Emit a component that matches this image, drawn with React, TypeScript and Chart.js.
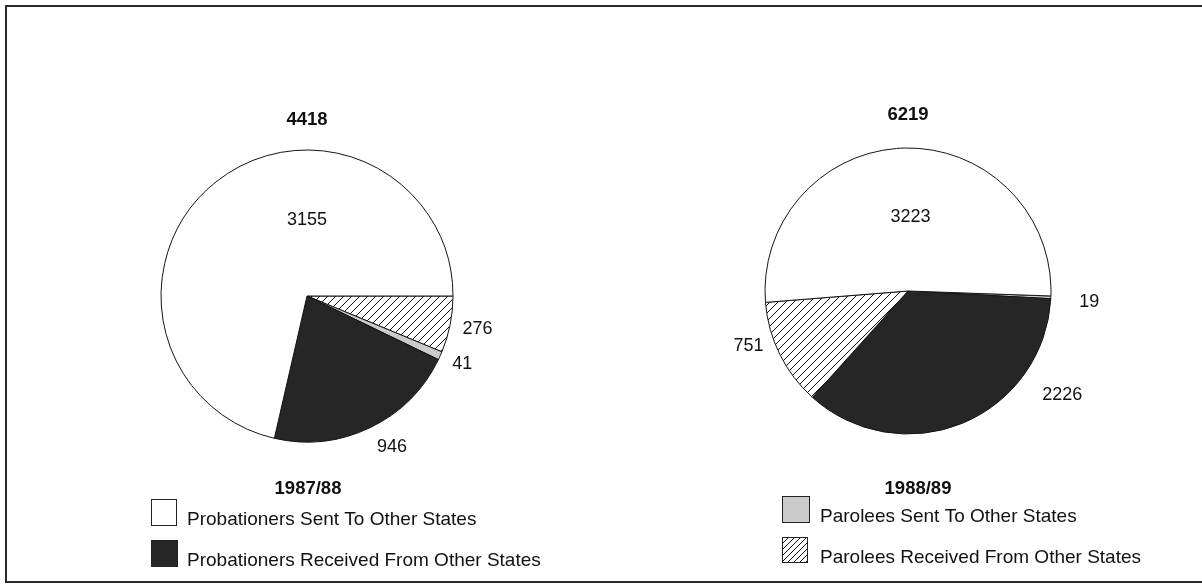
import React, { useEffect, useRef } from 'react';
import { Chart, registerables } from 'chart.js';

Chart.register(...registerables);

const W = 1202;
const H = 585;

// ---- data ----
const categories = [
  'Probationers Sent To Other States',
  'Probationers Received From Other States',
  'Parolees Sent To Other States',
  'Parolees Received From Other States',
];
const years = ['1987/88', '1988/89'];
const totals = [4418, 6219];
const values8788 = [3155, 946, 41, 276];
const values8889 = [3223, 2226, 19, 751];
// clockwise drawing order (category indices) starting from the rotation angle
const drawOrder8788 = [3, 2, 1, 0];
const drawOrder8889 = [2, 1, 3, 0];

// ---- style / layout ----
const FONT = '"Liberation Sans", Arial, Helvetica, sans-serif';
const WHITE = '#ffffff';
const DARK = '#262626';
const LIGHT = '#cbcbcb';
const LINE = '#141414';

function makeHatch(size: number): CanvasPattern | string {
  const c = document.createElement('canvas');
  c.width = size;
  c.height = size;
  const g = c.getContext('2d');
  if (!g) return '#fff';
  g.fillStyle = '#fff';
  g.fillRect(0, 0, size, size);
  g.strokeStyle = '#111';
  g.lineWidth = 1;
  g.beginPath();
  g.moveTo(-1, size + 1);
  g.lineTo(size + 1, -1);
  g.moveTo(-1, 1);
  g.lineTo(1, -1);
  g.moveTo(size - 1, size + 1);
  g.lineTo(size + 1, size - 1);
  g.stroke();
  const p = g.createPattern(c, 'repeat');
  return p || '#fff';
}

type PieCfg = {
  values: number[];
  order: number[];
  total: number;
  year: string;
  cx: number;
  cy: number;
  r: number;
  rotation: number;
  labelPos: [number, number][]; // per category: angle (deg, clockwise from 3 o'clock), distance factor of radius
  titleDy: number;
  yearXY: [number, number];
  legend: { cat: number; box: [number, number, number, number]; text: [number, number] }[];
  frame: boolean;
};

const pies: PieCfg[] = [
  {
    values: values8788,
    order: drawOrder8788,
    total: totals[0],
    year: years[0],
    cx: 307,
    cy: 296,
    r: 146,
    rotation: 90,
    labelPos: [
      [270, 0.52],
      [60.7, 1.19],
      [23.5, 1.16],
      [10.9, 1.19],
    ],
    titleDy: -176.5,
    yearXY: [308, 488.5],
    legend: [
      { cat: 0, box: [151, 499, 26, 27], text: [187, 525] },
      { cat: 1, box: [151, 540, 27, 27], text: [187, 566] },
    ],
    frame: true,
  },
  {
    values: values8889,
    order: drawOrder8889,
    total: totals[1],
    year: years[1],
    cx: 908,
    cy: 291,
    r: 143,
    rotation: 92,
    labelPos: [
      [272, 0.52],
      [33.9, 1.3],
      [3.5, 1.27],
      [161, 1.18],
    ],
    titleDy: -176,
    yearXY: [918, 488.5],
    legend: [
      { cat: 2, box: [782, 496, 28, 27], text: [820, 522] },
      { cat: 3, box: [782, 537, 26, 26], text: [820, 563] },
    ],
    frame: false,
  },
];

function PieCanvas({ cfg }: { cfg: PieCfg }) {
  const ref = useRef<HTMLCanvasElement | null>(null);
  useEffect(() => {
    const canvas = ref.current;
    if (!canvas) return;
    const ctx0 = canvas.getContext('2d');
    if (!ctx0) return;
    const hatchBig = makeHatch(8);
    const hatchSmall = makeHatch(6);
    const colors: (string | CanvasPattern)[] = [WHITE, DARK, LIGHT, hatchBig];
    const legendColors: (string | CanvasPattern)[] = [WHITE, DARK, LIGHT, hatchSmall];

    const overlay = {
      id: 'overlay' + cfg.year,
      beforeDraw(chart: any) {
        if (!cfg.frame) return;
        const ctx = chart.ctx;
        ctx.save();
        ctx.strokeStyle = '#2a2a2a';
        ctx.lineWidth = 2;
        ctx.beginPath();
        ctx.moveTo(1210, 6);
        ctx.lineTo(6, 6);
        ctx.lineTo(6, 582);
        ctx.lineTo(1210, 582);
        ctx.stroke();
        ctx.restore();
      },
      afterDraw(chart: any) {
        const ctx = chart.ctx;
        const meta = chart.getDatasetMeta(0);
        const arc = meta.data[0] as any;
        const cx = arc.x;
        const cy = arc.y;
        const r = arc.outerRadius;
        ctx.save();
        ctx.fillStyle = '#111';
        ctx.textAlign = 'center';
        ctx.textBaseline = 'middle';
        // slice value labels
        ctx.font = '18px ' + FONT;
        cfg.order.forEach((cat) => {
          const [a, f] = cfg.labelPos[cat];
          const rad = (a * Math.PI) / 180;
          ctx.fillText(String(cfg.values[cat]), cx + Math.cos(rad) * r * f, cy + Math.sin(rad) * r * f);
        });
        // total and year
        ctx.font = 'bold 18.5px ' + FONT;
        ctx.fillText(String(cfg.total), cx, cy + cfg.titleDy);
        ctx.fillText(cfg.year, cfg.yearXY[0], cfg.yearXY[1]);
        // legend
        ctx.textAlign = 'left';
        ctx.textBaseline = 'alphabetic';
        ctx.font = '19px ' + FONT;
        cfg.legend.forEach((it) => {
          const [bx, by, bw, bh] = it.box;
          ctx.fillStyle = legendColors[it.cat] as any;
          ctx.fillRect(bx, by, bw, bh);
          ctx.strokeStyle = '#222';
          ctx.lineWidth = 1;
          ctx.strokeRect(bx + 0.5, by + 0.5, bw - 1, bh - 1);
          ctx.fillStyle = '#111';
          ctx.fillText(categories[it.cat], it.text[0], it.text[1]);
        });
        ctx.restore();
      },
    };

    const chart = new Chart(canvas, {
      type: 'pie',
      data: {
        labels: cfg.order.map((c) => categories[c]),
        datasets: [
          {
            data: cfg.order.map((c) => cfg.values[c]),
            backgroundColor: cfg.order.map((c) => colors[c]) as any,
            borderColor: LINE,
            borderWidth: 1,
            radius: cfg.r,
          } as any,
        ],
      },
      options: {
        responsive: false,
        animation: false,
        rotation: cfg.rotation,
        layout: {
          padding: {
            left: cfg.cx - 150,
            right: W - cfg.cx - 150,
            top: cfg.cy - 150,
            bottom: H - cfg.cy - 150,
          },
        },
        plugins: {
          legend: { display: false },
          tooltip: { enabled: false },
          title: { display: false },
        },
      } as any,
      plugins: [overlay],
    });
    return () => chart.destroy();
  }, [cfg]);
  return (
    <canvas
      ref={ref}
      width={W}
      height={H}
      style={{ position: 'absolute', left: 0, top: 0, width: W, height: H }}
    />
  );
}

export default function App() {
  return (
    <div style={{ position: 'fixed', left: 0, top: 0, width: W, height: H, background: '#fff', overflow: 'hidden' }}>
      {pies.map((p) => (
        <PieCanvas key={p.year} cfg={p} />
      ))}
    </div>
  );
}
